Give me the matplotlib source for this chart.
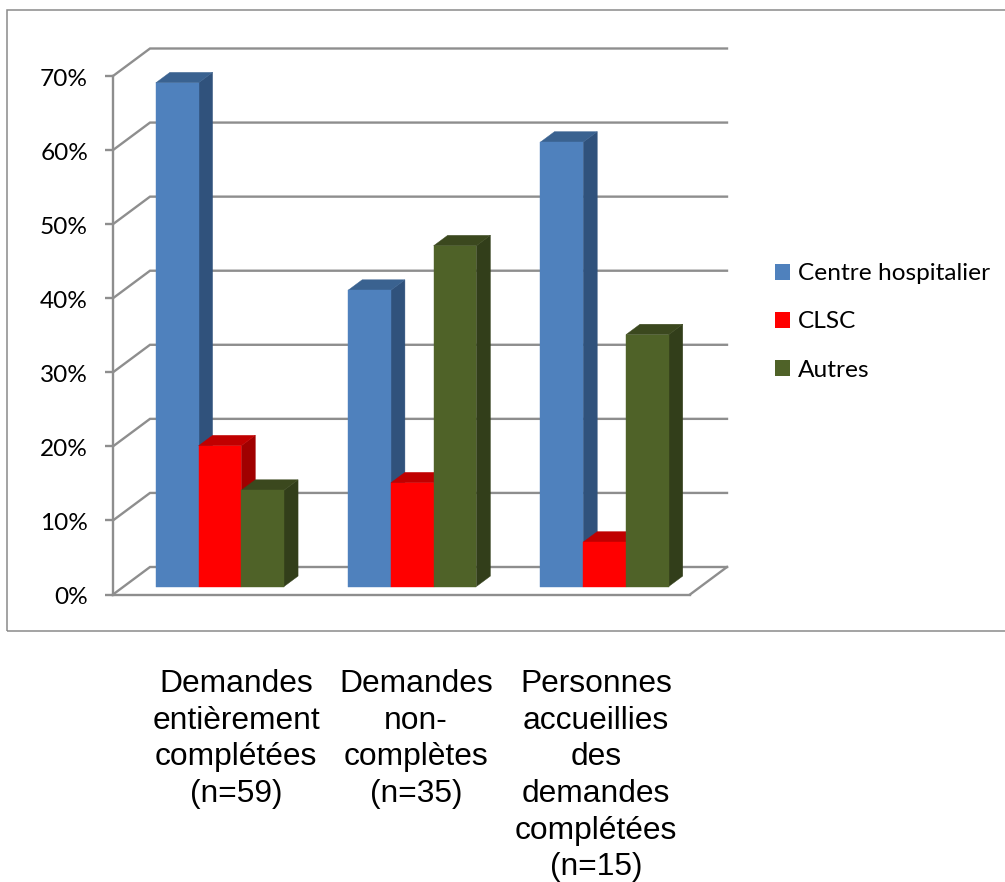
import matplotlib
matplotlib.use('Agg')
import matplotlib.pyplot as plt
from matplotlib.patches import Polygon, Rectangle, Patch
from matplotlib.transforms import blended_transform_factory, ScaledTranslation

# Values (percent)
categories = ['Demandes\nentièrement\ncomplétées\n(n=59)',
              'Demandes\nnon-\ncomplètes\n(n=35)',
              'Personnes\naccueillies\ndes\ndemandes\ncomplétées\n(n=15)']
series_names = ['Centre hospitalier', 'CLSC', 'Autres']
centre = [68, 40, 60]
clsc = [19, 14, 6]
autres = [13, 46, 34]
y_ticks = [0, 10, 20, 30, 40, 50, 60, 70]

W, H = 1005, 882
GRID = '#8e8e8e'
front_cols = ['#4f81bd', '#ff0000', '#4f6228']
side_cols = ['#30527c', '#a00000', '#323e1a']
top_cols = ['#3a6290', '#c00000', '#3b481e']

fig = plt.figure(figsize=(W / 100, H / 100), dpi=100)
fig.patch.set_facecolor('white')

# outer chart frame, runs off the right edge
fig.add_artist(Rectangle((7 / W, 1 - 631 / H), 1.1, 621 / H, transform=fig.transFigure,
                         fill=False, edgecolor='#8a8a8a', linewidth=1.1))

# axes = front plane of the fake 3D box
left, right, y0, y70 = 113, 690, 594.5, 76
ax = fig.add_axes([left / W, 1 - y0 / H, (right - left) / W, (y0 - y70) / H])
ax.set_xlim(0, 3)
ax.set_ylim(0, 70)
ax.patch.set_alpha(0)

# depth offset of the back wall in data units
DX = 37 / ((right - left) / 3)
DY = 27.5 / ((y0 - y70) / 70)


def proj(x, y, z):
    return (x + z * DX, y + z * DY)


# walls and gridlines
for v in y_ticks:
    pts = [proj(0, v, 0), proj(0, v, 1), proj(3, v, 1)]
    ax.plot(*zip(*pts), color=GRID, lw=1.7, clip_on=False, zorder=1, solid_joinstyle='miter')
pts = [proj(3, 0, 0), proj(3, 0, 1)]
ax.plot(*zip(*pts), color=GRID, lw=1.7, clip_on=False, zorder=1)

# bars, painted left to right so the next one hides the side of the previous
bar_w = 1 / 4.5
gap = bar_w * 0.75
z0, z1 = 0.29, 0.67
z = 3
for i in range(len(categories)):
    for k, vals in enumerate([centre, clsc, autres]):
        x0 = i + gap + k * bar_w
        x1 = x0 + bar_w
        v = vals[i]
        front = [proj(x0, 0, z0), proj(x1, 0, z0), proj(x1, v, z0), proj(x0, v, z0)]
        side = [proj(x1, 0, z0), proj(x1, 0, z1), proj(x1, v, z1), proj(x1, v, z0)]
        top = [proj(x0, v, z0), proj(x1, v, z0), proj(x1, v, z1), proj(x0, v, z1)]
        for poly, col in [(side, side_cols[k]), (top, top_cols[k]), (front, front_cols[k])]:
            ax.add_patch(Polygon(poly, closed=True, facecolor=col, edgecolor=col,
                                 linewidth=0.3, clip_on=False, zorder=z))
            z += 1

for s in ['top', 'right']:
    ax.spines[s].set_visible(False)
for s in ['left', 'bottom']:
    ax.spines[s].set_color(GRID)
    ax.spines[s].set_linewidth(1.7)
ax.set_xticks([])
ax.set_yticks(y_ticks)
ax.set_yticklabels([str(v) + '%' for v in y_ticks], fontsize=17.6, family='Lato', color='black')
ax.tick_params(axis='y', length=6, width=1.7, color=GRID, pad=12)
# nudge tick labels down a little
nudge = ScaledTranslation(0, -1.5 / 100, fig.dpi_scale_trans)
for lbl in ax.get_yticklabels():
    lbl.set_transform(lbl.get_transform() + nudge)

# category labels sit below the frame, as in the source
label_px = [236, 416, 596]
label_trans = blended_transform_factory(ax.transData, fig.transFigure)
for px, lab in zip(label_px, categories):
    ax.text((px - left) / ((right - left) / 3), 1 - 669 / H, lab,
            transform=label_trans, ha='center', va='top', fontsize=22.9,
            family='Liberation Sans', linespacing=1.29, color='black', clip_on=False)

handles = [Patch(facecolor=c, edgecolor='none') for c in front_cols]
fig.legend(handles, series_names, loc='upper left', bbox_to_anchor=(768 / W, 1 - 256 / H),
           frameon=False, prop={'family': 'Lato', 'size': 17.6},
           handlelength=0.62, handleheight=0.62, handletextpad=0.3, labelspacing=1.11,
           borderpad=0.3, borderaxespad=0)

fig.savefig('out.png', dpi=100)
